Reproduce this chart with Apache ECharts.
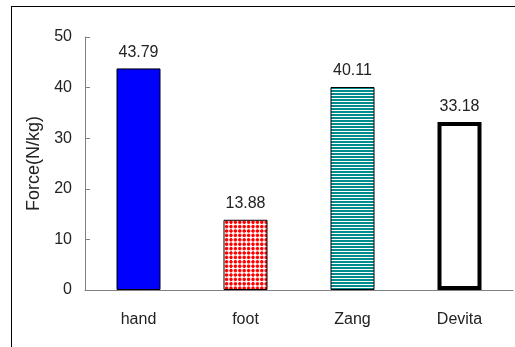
<!DOCTYPE html>
<html>
<head>
<meta charset="utf-8">
<script src="https://cdn.jsdelivr.net/npm/echarts@6/dist/echarts.min.js"></script>
<style>
  html, body { margin: 0; padding: 0; background: #fff; overflow: hidden; }
  #wrap { position: relative; width: 515px; height: 347px; overflow: hidden; }
  #chart { width: 515px; height: 347px; }
  /* frame whose left and top edges show inside the view */
  #frame {
    position: absolute; left: 11px; top: 6px; width: 800px; height: 800px;
    border-left: 1px solid #000; border-top: 1px solid #000;
    pointer-events: none;
  }
</style>
</head>
<body>
<div id="wrap">
  <div id="chart"></div>
  <div id="frame"></div>
</div>
<script>
// Chart data
const categories = ['hand', 'foot', 'Zang', 'Devita'];
const forceValues = [43.79, 13.88, 40.11, 33.18];
const yTicks = { min: 0, max: 50, step: 10 };
const yAxisTitle = 'Force(N/kg)';

// Fill patterns drawn on small canvases
function dotPattern() {
  const c = document.createElement('canvas');
  c.width = 22; c.height = 22;
  const g = c.getContext('2d');
  g.fillStyle = '#ffffff';
  g.fillRect(0, 0, 22, 22);
  g.fillStyle = '#ff0000';
  for (let i = 0; i < 5; i++) {
    for (let j = 0; j < 5; j++) {
      const cx = 2.2 + i * 4.4, cy = 2.2 + j * 4.4;
      g.fillRect(cx - 1.7, cy - 1.0, 3.4, 2.0);
      g.fillRect(cx - 1.0, cy - 1.7, 2.0, 3.4);
    }
  }
  return c;
}
function stripePattern() {
  const c = document.createElement('canvas');
  c.width = 4; c.height = 3;
  const g = c.getContext('2d');
  g.fillStyle = '#ffffff';
  g.fillRect(0, 0, 4, 3);
  g.fillStyle = '#008c8c';
  g.fillRect(0, 0, 4, 2);
  return c;
}

const barStyles = [
  { color: '#0000ff', borderColor: '#000', borderWidth: 1 },
  { color: { image: dotPattern(), repeat: 'repeat' }, borderColor: '#000', borderWidth: 1 },
  { color: { image: stripePattern(), repeat: 'repeat' }, borderColor: '#000', borderWidth: 1 },
  { color: '#ffffff', borderColor: '#000', borderWidth: 4 }
];

const font = 'Liberation Sans, Arial, sans-serif';
const axisGray = '#808080';

const chart = echarts.init(document.getElementById('chart'), null, { renderer: 'canvas' });
chart.setOption({
  animation: false,
  backgroundColor: '#fff',
  grid: { left: 85, right: 2, top: 37, bottom: 57, containLabel: false },
  xAxis: {
    type: 'category',
    data: categories,
    boundaryGap: true,
    axisLine: { lineStyle: { color: axisGray, width: 1 } },
    axisTick: { inside: true, length: 5, lineStyle: { color: axisGray } },
    axisLabel: { margin: 22, fontSize: 16, color: '#222', fontFamily: font },
    splitLine: { show: false }
  },
  yAxis: {
    type: 'value',
    min: yTicks.min, max: yTicks.max, interval: yTicks.step,
    name: yAxisTitle,
    nameLocation: 'middle',
    nameRotate: 90,
    nameGap: 38,
    nameTextStyle: { fontSize: 18, color: '#222', fontFamily: font },
    axisLine: { show: true, lineStyle: { color: axisGray, width: 1 } },
    axisTick: { show: true, inside: true, length: 5, lineStyle: { color: axisGray } },
    axisLabel: { margin: 13, fontSize: 16, color: '#222', fontFamily: font },
    splitLine: { show: false }
  },
  series: [{
    type: 'bar',
    barWidth: 44,
    data: forceValues.map((v, i) => ({ value: v, itemStyle: barStyles[i] })),
    label: {
      show: true,
      position: 'top',
      distance: 8,
      fontSize: 16,
      color: '#222',
      fontFamily: font,
      formatter: p => p.value.toFixed(2)
    }
  }]
});
</script>
</body>
</html>
